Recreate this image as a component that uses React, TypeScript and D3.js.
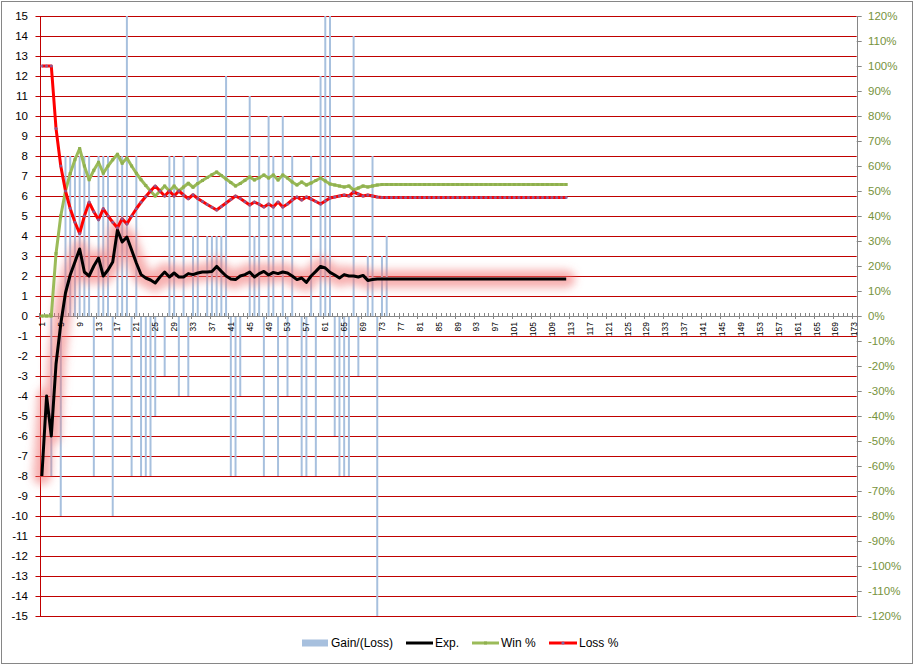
import React from 'react';
import * as d3 from 'd3';

const categories: number[] = d3.range(1, 174);
const xTickLabels: number[] = categories.filter((c) => (c - 1) % 4 === 0);
const leftTicks: number[] = d3.range(-15, 16, 1);
const rightTicks: number[] = d3.range(-120, 121, 10);

// Gain/(Loss) per trade (primary axis)
const gainLoss: number[] = [
  0, 0, -8, 0, -10, 8, 8, 8, 8, 8,
  8, -8, 8, 8, 8, -10, 8, 8, 15, -8,
  8, -8, -8, -8, -5, 0, -3, 8, 8, -4,
  8, -4, 4, 8, 0, 4, 4, 4, 4, 12,
  -8, -8, -4, 0, 11, 4, 8, -8, 10, 8,
  -8, 10, -4, 8, 0, -8, -8, 8, -8, 12,
  15, 15, -6, -8, -8, -8, 14, -3, 0, 3,
  8, -15, 3, 4,
];

// Expectancy (primary axis)
const expValues: number[] = [
  -8, -4, -6, -2.4, -0.4, 1.15, 2.05, 2.7, 3.35, 2.2,
  2.0, 2.5, 2.9, 2.0, 2.3, 2.7, 4.3, 3.7, 3.95, 3.3,
  2.65, 2.07, 1.9, 1.8, 1.65, 1.95, 2.2, 1.95, 2.15, 1.95,
  1.95, 2.12, 2.07, 2.15, 2.2, 2.2, 2.22, 2.48, 2.23, 2.0,
  1.85, 1.82, 2.0, 2.07, 2.2, 1.95, 2.12, 2.23, 2.05, 2.18,
  2.12, 2.2, 2.15, 2.0, 1.82, 1.9, 1.68, 2.0, 2.23, 2.48,
  2.4, 2.18, 2.05, 1.9, 2.07, 2.0, 2.0, 1.95, 2.03, 1.78,
  1.82, 1.85, 1.85, 1.85, 1.85, 1.85, 1.85, 1.85, 1.85, 1.85,
  1.85, 1.85, 1.85, 1.85, 1.85, 1.85, 1.85, 1.85, 1.85, 1.85,
  1.85, 1.85, 1.85, 1.85, 1.85, 1.85, 1.85, 1.85, 1.85, 1.85,
  1.85, 1.85, 1.85, 1.85, 1.85, 1.85, 1.85, 1.85, 1.85, 1.85,
  1.85, 1.85,
];

// Win % (secondary axis)
const winPct: number[] = [
  0, 0, 0, 25, 40, 50, 57, 62.5, 67, 60,
  54.5, 58.3, 61.5, 57.1, 60, 62.5, 64.7, 61.1, 63.2, 60,
  57.1, 54.5, 52.2, 50, 48, 50, 52, 50, 52, 50,
  51.6, 53.1, 51.5, 53, 54.2, 55.4, 56.5, 57.6, 56.2, 54.8,
  53.4, 52, 53, 54.3, 55.6, 54.4, 55.3, 56.4, 55.2, 56.4,
  54.4, 56.4, 55.2, 53.6, 52.4, 53.6, 52.4, 53.2, 54.2, 55.2,
  54, 52.8, 52.4, 52, 51.6, 52, 50.4, 51.2, 52, 51.6,
  52, 52.4, 52.6, 52.6, 52.6, 52.6, 52.6, 52.6, 52.6, 52.6,
  52.6, 52.6, 52.6, 52.6, 52.6, 52.6, 52.6, 52.6, 52.6, 52.6,
  52.6, 52.6, 52.6, 52.6, 52.6, 52.6, 52.6, 52.6, 52.6, 52.6,
  52.6, 52.6, 52.6, 52.6, 52.6, 52.6, 52.6, 52.6, 52.6, 52.6,
  52.6, 52.6,
];

// Loss % (secondary axis)
const lossPct: number[] = [
  100, 100, 100, 75, 60, 50, 43, 37.5, 33, 40,
  45.5, 41.7, 38.5, 42.9, 40, 37.5, 35.3, 38.9, 36.8, 40,
  42.9, 45.5, 47.8, 50, 52, 50, 48, 50, 48, 50,
  48.4, 46.9, 48.5, 47, 45.8, 44.6, 43.5, 42.4, 43.8, 45.2,
  46.6, 48, 47, 45.7, 44.4, 45.6, 44.7, 43.6, 44.8, 43.6,
  45.6, 43.6, 44.8, 46.4, 47.6, 46.4, 47.6, 46.8, 45.8, 44.8,
  46, 47.2, 47.6, 48, 48.4, 48, 49.6, 48.8, 48, 48.4,
  48, 47.6, 47.4, 47.4, 47.4, 47.4, 47.4, 47.4, 47.4, 47.4,
  47.4, 47.4, 47.4, 47.4, 47.4, 47.4, 47.4, 47.4, 47.4, 47.4,
  47.4, 47.4, 47.4, 47.4, 47.4, 47.4, 47.4, 47.4, 47.4, 47.4,
  47.4, 47.4, 47.4, 47.4, 47.4, 47.4, 47.4, 47.4, 47.4, 47.4,
  47.4, 47.4,
];

const W = 914;
const H = 665;
const PL = 39.5;
const PR = 856.7;
const PT = 16;
const PB = 616;
const FONT = "'Liberation Sans', Arial, sans-serif";

export default function App() {
  const x = d3.scaleBand<number>().domain(categories).range([PL, PR]).padding(0);
  const yL = d3.scaleLinear().domain([-15, 15]).range([PB, PT]);
  const yR = d3.scaleLinear().domain([-120, 120]).range([PB, PT]);
  const cx = (c: number) => (x(c) as number) + x.bandwidth() / 2;
  const barW = x.bandwidth() * 0.42;
  const y0 = yL(0);

  const lineL = d3
    .line<number>()
    .x((_, i) => cx(i + 1))
    .y((v) => yL(v));
  const lineR = d3
    .line<number>()
    .x((_, i) => cx(i + 1))
    .y((v) => yR(v));

  const crisp = (v: number) => Math.round(v) + 0.5;

  return (
    <svg
      width={W}
      height={H}
      style={{ position: 'absolute', left: 0, top: 0, background: '#fff' }}
      fontFamily={FONT}
    >
      <defs>
        <clipPath id="plotClip">
          <rect x={PL} y={PT} width={PR - PL} height={PB - PT + 1} />
        </clipPath>
        <filter id="glow" x="-10%" y="-50%" width="120%" height="200%">
          <feGaussianBlur stdDeviation="4.5" />
        </filter>
      </defs>
      <rect x={0} y={0} width={W} height={H} fill="#fff" />
      <rect x={1.5} y={1.5} width={W - 3} height={H - 3} fill="none" stroke="#868686" strokeWidth={1} />

      {/* horizontal gridlines */}
      {leftTicks.map((t) => (
        <line
          key={'g' + t}
          x1={PL - 4}
          x2={PR}
          y1={crisp(yL(t))}
          y2={crisp(yL(t))}
          stroke="#C00000"
          strokeWidth={1}
        />
      ))}

      {/* bars */}
      <g clipPath="url(#plotClip)">
        {gainLoss.map((v, i) =>
          v === 0 ? null : (
            <rect
              key={'b' + i}
              x={cx(i + 1) - barW / 2}
              width={barW}
              y={Math.min(yL(v), y0)}
              height={Math.abs(yL(v) - y0)}
              fill="#A7C0DE"
            />
          )
        )}
      </g>

      {/* left axis line */}
      <line x1={crisp(PL)} x2={crisp(PL)} y1={PT} y2={PB} stroke="#C00000" strokeWidth={1} />
      {/* right axis line */}
      <line x1={crisp(PR)} x2={crisp(PR)} y1={PT} y2={PB} stroke="#868686" strokeWidth={1} />
      {rightTicks.map((t) => (
        <line
          key={'rt' + t}
          x1={PR}
          x2={PR + 5}
          y1={crisp(yR(t))}
          y2={crisp(yR(t))}
          stroke="#868686"
          strokeWidth={1}
        />
      ))}
      {/* x axis line at zero */}
      <line x1={PL} x2={PR} y1={crisp(y0)} y2={crisp(y0)} stroke="#868686" strokeWidth={1} />
      {categories.map((c) => (
        <line
          key={'xt' + c}
          x1={crisp(x(c) as number)}
          x2={crisp(x(c) as number)}
          y1={y0 - 3}
          y2={y0 + ((c - 1) % 4 === 0 ? 3 : 0)}
          stroke="#868686"
          strokeWidth={1}
        />
      ))}

      {/* Exp glow + line */}
      <path
        d={lineL(expValues) || ''}
        fill="none"
        stroke="#F07070"
        strokeOpacity={0.55}
        strokeWidth={18}
        strokeLinejoin="round"
        strokeLinecap="round"
        filter="url(#glow)"
      />
      <path d={lineL(expValues) || ''} fill="none" stroke="#000" strokeWidth={3} strokeLinejoin="round" />

      {/* Win % */}
      <path d={lineR(winPct) || ''} fill="none" stroke="#9BBB59" strokeWidth={3} strokeLinejoin="round" />
      {winPct.map((v, i) => (
        <rect key={'wm' + i} x={cx(i + 1) - 1.5} y={yR(v) - 1.5} width={3} height={3} fill="#8FB04F" />
      ))}

      {/* Loss % */}
      <path d={lineR(lossPct) || ''} fill="none" stroke="#FF0000" strokeWidth={3} strokeLinejoin="round" />
      {lossPct.map((v, i) => (
        <circle key={'lm' + i} cx={cx(i + 1)} cy={yR(v)} r={1.6} fill="#8064A2" fillOpacity={0.85} />
      ))}

      {/* left axis labels */}
      {leftTicks.map((t) => (
        <text key={'ll' + t} x={28} y={yL(t)} dy="0.35em" textAnchor="end" fontSize={11.5} fill="#000">
          {t}
        </text>
      ))}
      {/* right axis labels */}
      {rightTicks.map((t) => (
        <text key={'rl' + t} x={868} y={yR(t)} dy="0.35em" textAnchor="start" fontSize={11.5} fill="#77933C">
          {t + '%'}
        </text>
      ))}
      {/* x axis labels */}
      {xTickLabels.map((c) => (
        <text
          key={'xl' + c}
          transform={`translate(${cx(c)},${y0 + 6}) rotate(-90)`}
          dy="0.35em"
          textAnchor="end"
          fontSize={8.5}
          fill="#000"
        >
          {c}
        </text>
      ))}

      {/* legend */}
      <g fontSize={12} fill="#000">
        <rect x={302} y={639.5} width={26} height={7} fill="#A7C0DE" />
        <text x={331} y={643} dy="0.35em">Gain/(Loss)</text>
        <line x1={406} x2={433} y1={643} y2={643} stroke="#000" strokeWidth={3} />
        <text x={435} y={643} dy="0.35em">Exp.</text>
        <line x1={472} x2={499} y1={643} y2={643} stroke="#9BBB59" strokeWidth={3} />
        <rect x={484} y={641.5} width={3} height={3} fill="#8FB04F" />
        <text x={501} y={643} dy="0.35em">Win %</text>
        <line x1={549} x2={577} y1={643} y2={643} stroke="#FF0000" strokeWidth={3} />
        <circle cx={563} cy={643} r={1.6} fill="#8064A2" />
        <text x={579} y={643} dy="0.35em">Loss %</text>
      </g>
    </svg>
  );
}
